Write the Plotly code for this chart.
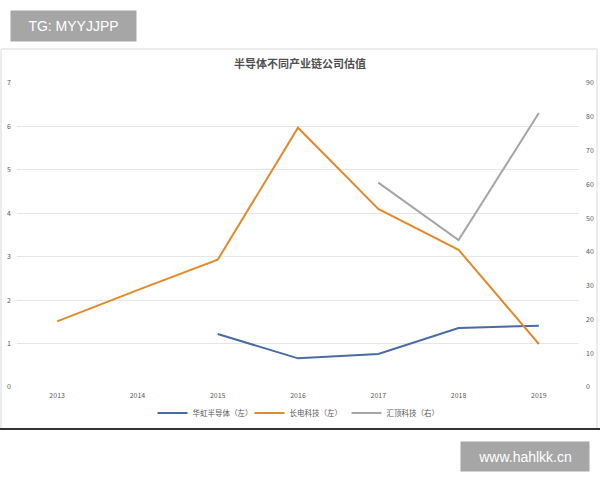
import plotly.graph_objects as go

years = ["2013", "2014", "2015", "2016", "2017", "2018", "2019"]
huahong = [None, None, 1.22, 0.66, 0.76, 1.36, 1.41]
changdian = [1.51, 2.23, 2.93, 5.97, 4.1, 3.16, 0.99]
huiding = [None, None, None, None, 60.5, 43.5, 81.1]
left_ticks = [0, 1, 2, 3, 4, 5, 6, 7]
right_ticks = [0, 10, 20, 30, 40, 50, 60, 70, 80, 90]

FONT = "Noto Sans CJK SC"
W, H = 600, 480
L, R, T, B = 17, 21, 83, 93
PW, PH = W - L - R, H - T - B


def px(x):
    return (x - L) / PW


def py(y):
    return (H - B - y) / PH


fig = go.Figure()
fig.add_trace(go.Scatter(x=years, y=huahong, mode="lines", name="华虹半导体（左）",
                         line=dict(color="#4a6aa5", width=2), connectgaps=False))
fig.add_trace(go.Scatter(x=years, y=changdian, mode="lines", name="长电科技（左）",
                         line=dict(color="#e08a2c", width=2)))
fig.add_trace(go.Scatter(x=years, y=huiding, mode="lines", name="汇顶科技（右）",
                         line=dict(color="#a5a5a5", width=2), yaxis="y2"))

fig.update_layout(
    width=W, height=H,
    paper_bgcolor="white", plot_bgcolor="white",
    margin=dict(l=L, r=R, t=T, b=B, autoexpand=False),
    font=dict(family=FONT, size=7, color="#595959"),
    title=dict(text="<b>半导体不同产业链公司估值</b>", x=0.5, xanchor="center",
               y=1 - 64 / H, yanchor="middle",
               font=dict(family=FONT, size=11, color="#505050")),
    xaxis=dict(type="category", range=[-0.5, 6.5], showgrid=False, zeroline=False,
               showline=False, ticks="", automargin=False,
               tickfont=dict(size=7, color="#595959"), ticklabelstandoff=3),
    yaxis=dict(range=[0, 7], tickvals=left_ticks, showgrid=True, gridcolor="#e6e6e6",
               gridwidth=1, zeroline=False, showline=False, ticks="", automargin=False,
               tickfont=dict(size=7, color="#595959"), ticklabelstandoff=5),
    yaxis2=dict(range=[0, 90], tickvals=right_ticks, overlaying="y", side="right",
                showgrid=False, zeroline=False, showline=False, ticks="", automargin=False,
                tickfont=dict(size=7, color="#595959"), ticklabelstandoff=6),
    legend=dict(orientation="h", x=0.5, xanchor="center", y=(H - 413) / H,
                yref="container", yanchor="middle", bgcolor="rgba(0,0,0,0)",
                entrywidth=52, itemwidth=30,
                font=dict(family=FONT, size=7.5, color="#595959")),
    showlegend=True,
)

shapes = [
    dict(type="rect", xref="paper", yref="paper", x0=px(1), x1=px(597),
         y0=py(429), y1=py(49),
         line=dict(color="#d9d9d9", width=1), fillcolor="rgba(0,0,0,0)", layer="below"),
    dict(type="line", xref="paper", yref="paper", x0=px(0), x1=px(600),
         y0=py(429), y1=py(429),
         line=dict(color="#333333", width=2)),
]
fig.update_layout(shapes=shapes)

fig.add_annotation(text="TG: MYYJJPP", xref="paper", yref="paper",
                   x=px(10), y=py(10), xanchor="left", yanchor="top",
                   showarrow=False, bgcolor="#a6a6a6",
                   font=dict(family="Liberation Sans", size=14, color="white"),
                   borderpad=5, width=115, height=20)
fig.add_annotation(text="www.hahlkk.cn", xref="paper", yref="paper",
                   x=px(590), y=py(441), xanchor="right", yanchor="top",
                   showarrow=False, bgcolor="#a6a6a6",
                   font=dict(family="Liberation Sans", size=14, color="white"),
                   borderpad=5, width=118, height=19)

fig.write_html("out.html")
